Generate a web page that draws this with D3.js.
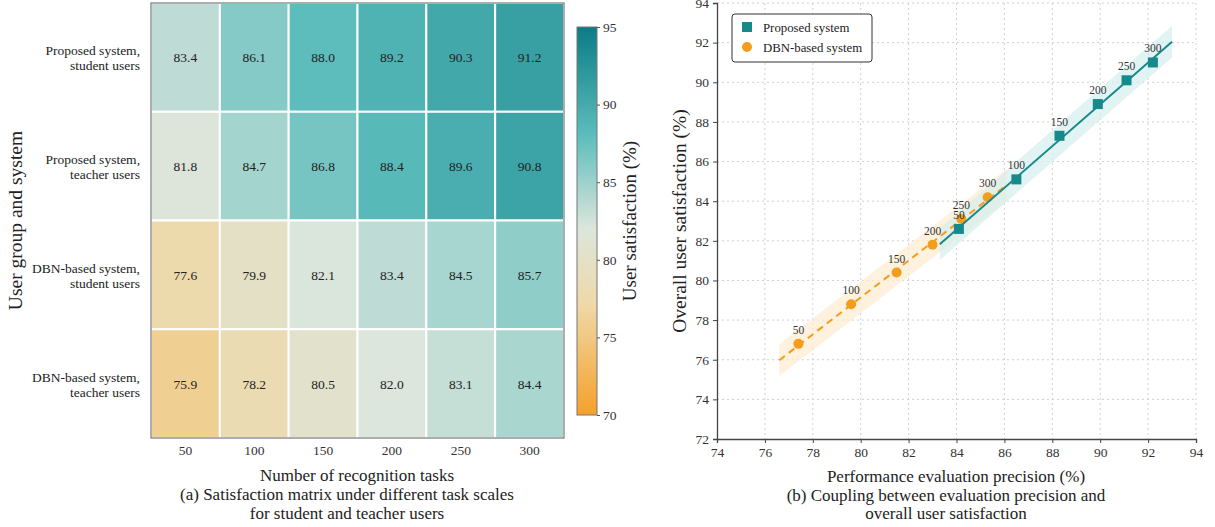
<!DOCTYPE html>
<html>
<head>
<meta charset="utf-8">
<script src="https://cdn.jsdelivr.net/npm/d3@7"></script>
<style>
  body { margin: 0; background: #fff; }
  svg, svg text { font-family: "Liberation Serif", "Times New Roman", "DejaVu Serif", serif; }
</style>
</head>
<body>
<div id="chart"></div>
<script>
// data
var taskScales = [50, 100, 150, 200, 250, 300];
var groups = [
  ["Proposed system,", "student users"],
  ["Proposed system,", "teacher users"],
  ["DBN-based system,", "student users"],
  ["DBN-based system,", "teacher users"]
];
var satMatrix = [
  [83.4, 86.1, 88.0, 89.2, 90.3, 91.2],
  [81.8, 84.7, 86.8, 88.4, 89.6, 90.8],
  [77.6, 79.9, 82.1, 83.4, 84.5, 85.7],
  [75.9, 78.2, 80.5, 82.0, 83.1, 84.4]
];
var colorTicks = [70, 75, 80, 85, 90, 95];

var propPrecision = [84.1, 86.5, 88.3, 89.9, 91.1, 92.2];
var propSatisfaction = [82.6, 85.1, 87.3, 88.9, 90.1, 91.0];
var dbnPrecision = [77.4, 79.6, 81.5, 83.0, 84.2, 85.3];
var dbnSatisfaction = [76.8, 78.8, 80.4, 81.8, 83.1, 84.2];
var axisTicks = [74, 76, 78, 80, 82, 84, 86, 88, 90, 92, 94];
var satTicks = [72, 74, 76, 78, 80, 82, 84, 86, 88, 90, 92, 94];

var teal = "#16898a", orange = "#f49d1a";
var serif = "Liberation Serif, Times New Roman, serif";

var svg = d3.select("#chart").append("svg")
    .attr("width", 1215)
    .attr("height", 527)
    .attr("font-family", serif);

/*** PANEL A: heatmap ***/
var hm = {left: 151, top: 3, width: 413, height: 435};

var x = d3.scaleBand().domain(taskScales).range([hm.left, hm.left + hm.width]);
var y = d3.scaleBand().domain(d3.range(groups.length)).range([hm.top, hm.top + hm.height]);

var color = d3.scaleLinear()
  .domain([70, 77, 82, 88, 95])
  .range(["#f5a02a", "#efd8a6", "#dce6dc", "#5dbdbc", "#0b7c86"])
  .clamp(true);

var cells = [];
satMatrix.forEach(function(row, r) {
  row.forEach(function(v, c) { cells.push({r: r, c: c, v: v}); });
});

svg.append("g").selectAll("rect")
  .data(cells)
  .enter().append("rect")
    .attr("x", function(d) { return x(taskScales[d.c]); })
    .attr("y", function(d) { return y(d.r); })
    .attr("width", x.bandwidth())
    .attr("height", y.bandwidth())
    .attr("fill", function(d) { return color(d.v); })
    .attr("stroke", "#fff")
    .attr("stroke-width", 2);

svg.append("g").selectAll("text")
  .data(cells)
  .enter().append("text")
    .attr("x", function(d) { return x(taskScales[d.c]) + x.bandwidth() / 2; })
    .attr("y", function(d) { return y(d.r) + y.bandwidth() / 2 + 5; })
    .attr("text-anchor", "middle")
    .attr("font-size", 13.5)
    .attr("fill", "#222")
    .text(function(d) { return d.v.toFixed(1); });

svg.append("rect")
  .attr("x", hm.left).attr("y", hm.top)
  .attr("width", hm.width).attr("height", hm.height)
  .attr("fill", "none").attr("stroke", "#777").attr("stroke-width", 1.2);

// x tick labels
svg.append("g").selectAll("text")
  .data(taskScales)
  .enter().append("text")
    .attr("x", function(d) { return x(d) + x.bandwidth() / 2; })
    .attr("y", 455)
    .attr("text-anchor", "middle")
    .attr("font-size", 13.5)
    .attr("fill", "#333")
    .text(function(d) { return d; });

// y tick labels (two lines)
var gl = svg.append("g").selectAll("text")
  .data(groups)
  .enter().append("text")
    .attr("text-anchor", "end")
    .attr("font-size", 13.5)
    .attr("fill", "#222");
gl.append("tspan")
  .attr("x", 140)
  .attr("y", function(d, i) { return y(i) + y.bandwidth() / 2 - 2; })
  .text(function(d) { return d[0]; });
gl.append("tspan")
  .attr("x", 140)
  .attr("y", function(d, i) { return y(i) + y.bandwidth() / 2 + 13; })
  .text(function(d) { return d[1]; });

svg.append("text")
  .attr("transform", "translate(22," + (hm.top + hm.height / 2) + ") rotate(-90)")
  .attr("text-anchor", "middle")
  .attr("font-size", 19.5)
  .attr("fill", "#222")
  .text("User group and system");

svg.append("text").attr("x", 357).attr("y", 481)
  .attr("text-anchor", "middle").attr("font-size", 17).attr("fill", "#222")
  .text("Number of recognition tasks");
svg.append("text").attr("x", 347).attr("y", 500)
  .attr("text-anchor", "middle").attr("font-size", 17).attr("fill", "#222")
  .text("(a) Satisfaction matrix under different task scales");
svg.append("text").attr("x", 347).attr("y", 519)
  .attr("text-anchor", "middle").attr("font-size", 17).attr("fill", "#222")
  .text("for student and teacher users");

// colorbar
var cb = {x: 577, top: 27, bottom: 415, width: 20};
var cy = d3.scaleLinear().domain([70, 95]).range([cb.bottom, cb.top]);

var grad = svg.append("defs").append("linearGradient")
  .attr("id", "cbgrad")
  .attr("x1", 0).attr("y1", 1).attr("x2", 0).attr("y2", 0);
d3.range(70, 95.01, 1).forEach(function(v) {
  grad.append("stop")
    .attr("offset", (v - 70) / 25)
    .attr("stop-color", color(v));
});

svg.append("rect")
  .attr("x", cb.x).attr("y", cb.top)
  .attr("width", cb.width).attr("height", cb.bottom - cb.top)
  .attr("fill", "url(#cbgrad)")
  .attr("stroke", "#777").attr("stroke-width", 1);

svg.append("g")
  .attr("transform", "translate(" + (cb.x + cb.width) + ",0)")
  .call(d3.axisRight(cy).tickValues(colorTicks).tickSize(3).tickPadding(3))
  .call(function(g) { g.select(".domain").remove(); })
  .call(function(g) {
    g.attr("font-family", serif);
    g.selectAll("text").attr("font-size", 13.5).attr("fill", "#333");
    g.selectAll("line").attr("stroke", "#555");
  });

svg.append("text")
  .attr("transform", "translate(636," + ((cb.top + cb.bottom) / 2) + ") rotate(-90)")
  .attr("text-anchor", "middle")
  .attr("font-size", 19)
  .attr("fill", "#222")
  .text("User satisfaction (%)");

/*** PANEL B: scatter ***/
var sc = {left: 717, right: 1196, top: 3, bottom: 439};
var sx = d3.scaleLinear().domain([74, 94]).range([sc.left, sc.right]);
var sy = d3.scaleLinear().domain([72, 94]).range([sc.bottom, sc.top]);

// grid
var grid = svg.append("g").attr("stroke", "#d0d0d0").attr("stroke-dasharray", "2,3").attr("stroke-width", 1);
grid.selectAll("line.v")
  .data(axisTicks.slice(1))
  .enter().append("line")
    .attr("x1", function(d) { return sx(d); }).attr("x2", function(d) { return sx(d); })
    .attr("y1", sc.top).attr("y2", sc.bottom);
grid.selectAll("line.h")
  .data(satTicks.slice(1))
  .enter().append("line")
    .attr("x1", sc.left).attr("x2", sc.right)
    .attr("y1", function(d) { return sy(d); }).attr("y2", function(d) { return sy(d); });

// linear fit + band
function fit(xs, ys) {
  var mx = d3.mean(xs), my = d3.mean(ys);
  var num = 0, den = 0;
  xs.forEach(function(v, i) { num += (v - mx) * (ys[i] - my); den += (v - mx) * (v - mx); });
  var b = num / den, a = my - b * mx;
  var x0 = d3.min(xs) - 0.8, x1 = d3.max(xs) + 0.8;
  return [x0, x1].map(function(v) { return {x: v, y: a + b * v}; });
}

var series = [
  {xs: dbnPrecision, ys: dbnSatisfaction, color: orange, band: "#fdebd0", dash: "7,5", shape: "circle"},
  {xs: propPrecision, ys: propSatisfaction, color: teal, band: "#d6eeee", dash: null, shape: "square"}
];

var area = d3.area()
  .x(function(d) { return sx(d.x); })
  .y0(function(d) { return sy(d.y - 0.8); })
  .y1(function(d) { return sy(d.y + 0.8); });
var line = d3.line()
  .x(function(d) { return sx(d.x); })
  .y(function(d) { return sy(d.y); });

series.forEach(function(s) {
  svg.append("path").datum(fit(s.xs, s.ys))
    .attr("d", area)
    .attr("fill", s.band)
    .attr("opacity", 0.7);
});

series.forEach(function(s) {
  svg.append("path").datum(fit(s.xs, s.ys))
    .attr("d", line)
    .attr("fill", "none")
    .attr("stroke", s.color)
    .attr("stroke-width", 2)
    .attr("stroke-dasharray", s.dash);

  var pts = s.xs.map(function(v, i) { return {x: v, y: s.ys[i], n: taskScales[i]}; });
  var g = svg.append("g");
  if (s.shape === "circle") {
    g.selectAll("circle").data(pts).enter().append("circle")
      .attr("cx", function(d) { return sx(d.x); })
      .attr("cy", function(d) { return sy(d.y); })
      .attr("r", 5)
      .attr("fill", s.color);
  } else {
    g.selectAll("rect").data(pts).enter().append("rect")
      .attr("x", function(d) { return sx(d.x) - 5; })
      .attr("y", function(d) { return sy(d.y) - 5; })
      .attr("width", 10).attr("height", 10)
      .attr("fill", s.color);
  }
  g.selectAll("text").data(pts).enter().append("text")
    .attr("x", function(d) { return sx(d.x); })
    .attr("y", function(d) { return sy(d.y) - 10; })
    .attr("text-anchor", "middle")
    .attr("font-size", 11.5)
    .attr("fill", "#333")
    .text(function(d) { return d.n; });
});

// axes
function styleAxis(g) {
  g.attr("font-family", serif);
  g.select(".domain").attr("stroke", "#444").attr("stroke-width", 1.3);
  g.selectAll("line").attr("stroke", "#444");
  g.selectAll("text").attr("font-size", 13.5).attr("fill", "#333");
}
svg.append("g")
  .attr("transform", "translate(0," + sc.bottom + ")")
  .call(d3.axisBottom(sx).tickValues(axisTicks).tickSize(4).tickPadding(4))
  .call(styleAxis);
svg.append("g")
  .attr("transform", "translate(" + sc.left + ",0)")
  .call(d3.axisLeft(sy).tickValues(satTicks).tickSize(4).tickPadding(4))
  .call(styleAxis);

svg.append("text")
  .attr("transform", "translate(686," + ((sc.top + sc.bottom) / 2) + ") rotate(-90)")
  .attr("text-anchor", "middle")
  .attr("font-size", 19.5)
  .attr("fill", "#222")
  .text("Overall user satisfaction (%)");

svg.append("text").attr("x", 956).attr("y", 482)
  .attr("text-anchor", "middle").attr("font-size", 17).attr("fill", "#222")
  .text("Performance evaluation precision (%)");
svg.append("text").attr("x", 946).attr("y", 501)
  .attr("text-anchor", "middle").attr("font-size", 17).attr("fill", "#222")
  .text("(b) Coupling between evaluation precision and");
svg.append("text").attr("x", 946).attr("y", 519)
  .attr("text-anchor", "middle").attr("font-size", 17).attr("fill", "#222")
  .text("overall user satisfaction");

// legend
var lg = svg.append("g").attr("transform", "translate(732,14)");
lg.append("rect")
  .attr("width", 140).attr("height", 48)
  .attr("rx", 3)
  .attr("fill", "#fff").attr("stroke", "#333").attr("stroke-width", 1);
lg.append("rect").attr("x", 10).attr("y", 8).attr("width", 10).attr("height", 10).attr("fill", teal);
lg.append("circle").attr("cx", 15).attr("cy", 33).attr("r", 5).attr("fill", orange);
lg.append("text").attr("x", 31).attr("y", 18).attr("font-size", 12.8).attr("fill", "#222").text("Proposed system");
lg.append("text").attr("x", 31).attr("y", 38).attr("font-size", 12.8).attr("fill", "#222").text("DBN-based system");
</script>
</body>
</html>
